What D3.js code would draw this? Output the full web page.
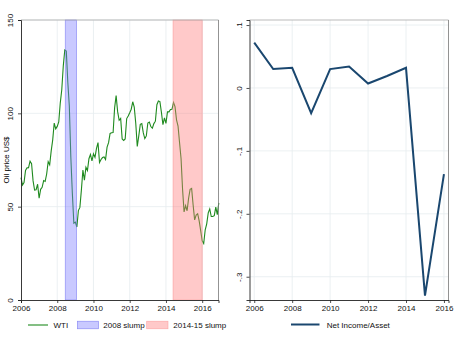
<!DOCTYPE html>
<html><head><meta charset="utf-8">
<script src="https://cdn.jsdelivr.net/npm/d3@7"></script>
<style>body{margin:0;background:#fff}svg{display:block;font-family:"Liberation Sans",Arial,sans-serif}</style>
</head><body><svg id="c" width="468" height="339"></svg>
<script>
const wtiStartYear = 2006;
const wti = [
65.5,61.6,62.9,69.4,70.8,70.9,74.4,73.0,63.8,58.9,59.1,62.0,
54.5,59.3,60.4,64.0,63.5,67.5,74.1,72.4,79.9,85.8,94.8,91.7,
93.0,95.4,105.5,112.6,125.4,133.9,133.4,116.7,104.1,76.6,57.3,41.1,
41.7,39.1,47.9,49.6,59.0,69.6,64.2,71.1,69.4,75.7,78.0,74.5,
78.3,76.4,81.2,84.3,73.7,75.3,76.3,76.6,75.2,81.9,84.3,89.2,
89.6,89.7,102.9,109.5,100.9,96.3,97.3,86.3,85.5,86.3,97.2,98.6,
100.3,102.2,106.2,103.3,94.7,82.3,87.9,94.1,94.5,89.5,86.5,87.9,
94.8,95.3,92.9,92.0,94.5,95.8,104.6,106.6,106.3,100.5,93.9,97.6,
94.6,100.8,100.8,102.1,102.2,105.8,103.6,96.5,93.2,84.4,75.8,59.3,
47.2,50.6,47.8,54.5,59.3,59.8,50.9,42.9,45.5,46.2,42.4,37.2,
31.7,30.3,37.6,40.8,46.7,48.8,44.7,44.7,45.2,49.8,45.7,52.0];
const slumps = [
  {label:"2008 slump", start:2008.44, end:2009.07},
  {label:"2014-15 slump", start:2014.39, end:2016.0}];
const oilTicksY = [0,50,100,150];
const yearTicks = [2006,2008,2010,2012,2014,2016];
const niYears = [2006,2007,2008,2009,2010,2011,2012,2013,2014,2015,2016];
const niValues = [0.072,0.030,0.032,-0.040,0.030,0.034,0.007,0.019,0.032,-0.330,-0.137];
const niTicksY = [0.1,0,-0.1,-0.2,-0.3];

const svg = d3.select("#c");
const fontSize = 8;
const gridCol = "#e6ecef";

// ---------- Left panel ----------
const L = {l:21, r:218.5, t:20, b:300};
const xL = d3.scaleLinear().domain([2006, 2016.9]).range([L.l, L.r]);
const yL = d3.scaleLinear().domain([0,150]).range([L.b, L.t]);
const gL = svg.append("g");
gL.append("rect").attr("x",L.l).attr("y",L.t).attr("width",L.r-L.l).attr("height",L.b-L.t).attr("fill","#fff");
gL.selectAll(".vg").data(yearTicks.slice(1)).join("line")
  .attr("x1",d=>xL(d)).attr("x2",d=>xL(d)).attr("y1",L.t).attr("y2",L.b)
  .attr("stroke",gridCol).attr("stroke-width",0.8);
gL.selectAll(".hg").data(oilTicksY.slice(1)).join("line")
  .attr("x1",L.l).attr("x2",L.r).attr("y1",d=>yL(d)).attr("y2",d=>yL(d))
  .attr("stroke",gridCol).attr("stroke-width",0.8);
const wtiPts = wti.map((v,i)=>({x: wtiStartYear + i/12, y: v}));
gL.append("path").datum(wtiPts)
  .attr("d", d3.line().x(d=>xL(d.x)).y(d=>yL(d.y)))
  .attr("fill","none").attr("stroke","#1f8a1f").attr("stroke-width",1.1);
const slumpFill = ["rgba(120,120,255,0.4)","rgba(255,120,120,0.4)"];
const slumpStroke = ["rgba(110,110,240,0.8)","rgba(250,150,150,0.8)"];
gL.selectAll(".band").data(slumps).join("rect")
  .attr("x",d=>xL(d.start)).attr("width",d=>xL(d.end)-xL(d.start))
  .attr("y",L.t).attr("height",L.b-L.t)
  .attr("fill",(d,i)=>slumpFill[i]).attr("stroke",(d,i)=>slumpStroke[i]).attr("stroke-width",0.6);
// frame
gL.append("line").attr("x1",L.l).attr("x2",L.r).attr("y1",L.t).attr("y2",L.t).attr("stroke","#aaa").attr("stroke-width",0.8);
gL.append("line").attr("x1",L.r).attr("x2",L.r).attr("y1",L.t).attr("y2",L.b).attr("stroke","#777").attr("stroke-width",0.8);
// axes
const axLB = d3.axisBottom(xL).tickValues(yearTicks).tickFormat(d3.format("d")).tickSize(3).tickPadding(2);
const gxL = gL.append("g").attr("transform",`translate(0,${L.b})`).call(axLB);
const axLL = d3.axisLeft(yL).tickValues(oilTicksY).tickSize(3).tickPadding(2);
const gyL = gL.append("g").attr("transform",`translate(${L.l},0)`).call(axLL);
gyL.selectAll(".tick text").attr("transform","rotate(-90)").attr("text-anchor","middle").attr("x",0).attr("y",-8).attr("dy","0");
gL.append("text").attr("transform",`translate(9,${(L.t+L.b)/2}) rotate(-90)`)
  .attr("text-anchor","middle").attr("font-size",fontSize).attr("fill","#000").text("Oil price US$");

// ---------- Right panel ----------
const R = {l:249.5, r:448.5, t:20, b:300};
const xR = d3.scaleLinear().domain([2005.75, 2016.24]).range([R.l, R.r]);
const yR = d3.scaleLinear().domain([-0.337, 0.108]).range([R.b, R.t]);
const gR = svg.append("g");
gR.selectAll(".vg").data(yearTicks).join("line")
  .attr("x1",d=>xR(d)).attr("x2",d=>xR(d)).attr("y1",R.t).attr("y2",R.b)
  .attr("stroke",gridCol).attr("stroke-width",0.8);
gR.selectAll(".hg").data(niTicksY).join("line")
  .attr("x1",R.l).attr("x2",R.r).attr("y1",d=>yR(d)).attr("y2",d=>yR(d))
  .attr("stroke",gridCol).attr("stroke-width",0.8);
const niPts = niYears.map((y,i)=>({x:y, y:niValues[i]}));
gR.append("path").datum(niPts)
  .attr("d", d3.line().x(d=>xR(d.x)).y(d=>yR(d.y)))
  .attr("fill","none").attr("stroke","#1a476f").attr("stroke-width",2);
gR.append("line").attr("x1",R.l).attr("x2",R.r).attr("y1",R.t).attr("y2",R.t).attr("stroke","#aaa").attr("stroke-width",0.8);
gR.append("line").attr("x1",R.r).attr("x2",R.r).attr("y1",R.t).attr("y2",R.b).attr("stroke","#777").attr("stroke-width",0.8);
const axRB = d3.axisBottom(xR).tickValues(yearTicks).tickFormat(d3.format("d")).tickSize(3).tickPadding(2);
gR.append("g").attr("transform",`translate(0,${R.b})`).call(axRB);
const fmtNI = d => d===0 ? "0" : d3.format(".1f")(d).replace("0.",".").replace("−","-");
const axRL = d3.axisLeft(yR).tickValues(niTicksY).tickFormat(fmtNI).tickSize(3).tickPadding(2);
const gyR = gR.append("g").attr("transform",`translate(${R.l},0)`).call(axRL);
gyR.selectAll(".tick text").attr("transform","rotate(-90)").attr("text-anchor","middle").attr("x",0).attr("y",-8).attr("dy","0");

// axis styling
svg.selectAll(".domain").attr("stroke","#222").attr("stroke-width",0.9);
svg.selectAll(".tick line").attr("stroke","#222").attr("stroke-width",0.8);
svg.selectAll(".tick text").attr("font-size",fontSize).attr("fill","#111").attr("font-family",'"Liberation Sans",Arial,sans-serif');

// ---------- Legends ----------
const lg = svg.append("g").attr("font-size",fontSize).attr("fill","#111");
const ly = 325;
lg.append("line").attr("x1",28).attr("x2",48).attr("y1",ly).attr("y2",ly).attr("stroke","#1f8a1f").attr("stroke-width",1.1);
lg.append("text").attr("x",53.5).attr("y",ly+3).text("WTI");
const swX = [77.3,146.7], txX = [103.3,173.3];
slumps.forEach((s,i)=>{
  lg.append("rect").attr("x",swX[i]).attr("y",ly-3.8).attr("width",21.3).attr("height",7.6)
    .attr("fill",slumpFill[i]).attr("stroke",slumpStroke[i]).attr("stroke-width",0.6);
  lg.append("text").attr("x",txX[i]).attr("y",ly+3).text(s.label);
});
lg.append("line").attr("x1",291).attr("x2",319.5).attr("y1",ly-0.5).attr("y2",ly-0.5).attr("stroke","#1a476f").attr("stroke-width",2);
lg.append("text").attr("x",326.7).attr("y",ly+2.5).text("Net Income/Asset");
</script></body></html>
